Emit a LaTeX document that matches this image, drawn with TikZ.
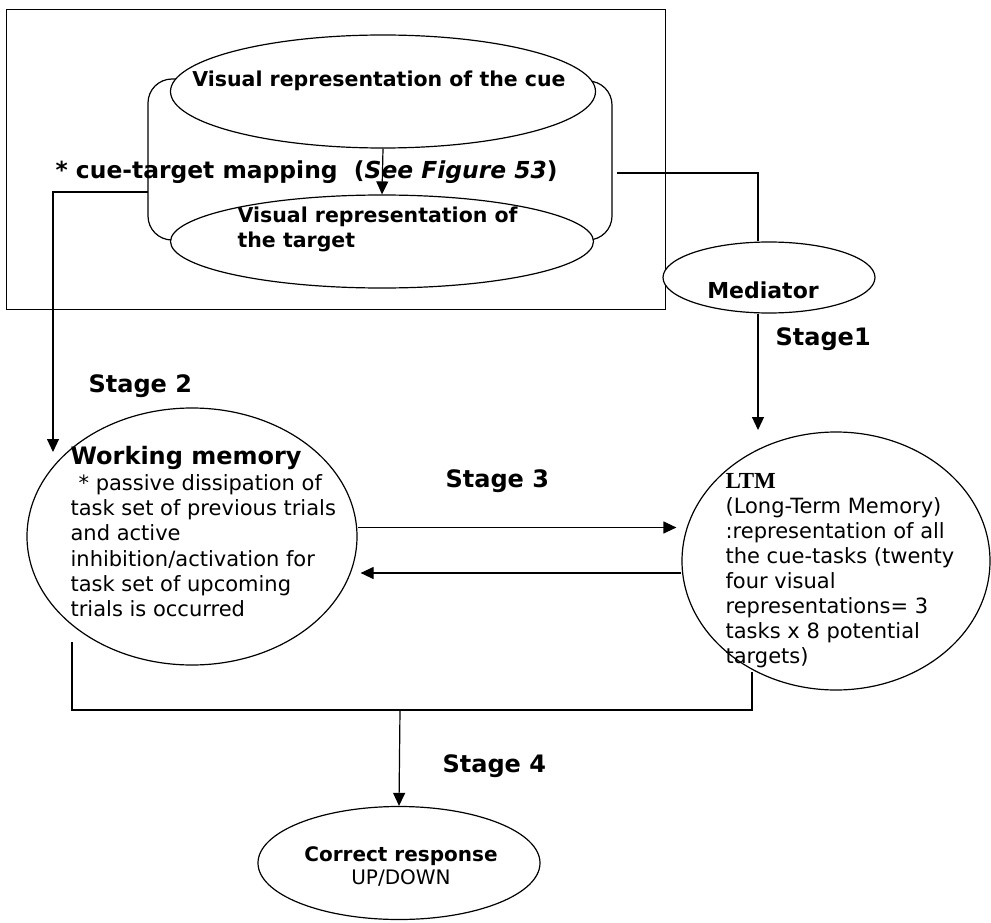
\documentclass[tikz,border=0pt]{standalone}
\usepackage{fontspec}
\setmainfont{DejaVu Sans}
\newfontfamily\ltmfont{Liberation Serif}
\usetikzlibrary{arrows.meta, positioning, shapes.geometric}
\newcommand{\fsz}[2]{\fontsize{#1}{#2}\selectfont}

\begin{document}
\begin{tikzpicture}[x=1pt, y=-1pt, line width=1.2pt,
    ell/.style={draw, ellipse, fill=white, inner sep=0pt},
    arr/.style={-{Triangle[length=13pt, width=12pt]}},
    txt/.style={inner sep=0pt, align=left, font=\fsz{20.5}{25}\bfseries},
    stagelbl/.style={inner sep=0pt, anchor=west, font=\fsz{24}{28}\bfseries}]
    \useasboundingbox (0,0) rectangle (991,923);

    % top frame with the two visual representations
    \node[draw, anchor=north west, inner sep=0pt, minimum width=659, minimum height=300] (frame) at (6,9) {};
    \draw[rounded corners=24pt] (200,79) -- (148,79) -- (148,240) -- (200,240);
    \draw[rounded corners=24pt] (565,81) -- (612,81) -- (612,240) -- (565,240);
    \node[ell, minimum width=425, minimum height=113] (cue) at (383,91.5) {};
    \node[ell, minimum width=423, minimum height=93] (target) at (382,241.5) {};
    \node[txt] (cuetext) at (379,81) {Visual representation of the cue};
    \node[txt, anchor=west] (targettext) at (237,229.5) {Visual representation of\\the target};
    \draw[arr] (cue.south) -- (target.north);
    \node[txt, anchor=west, font=\fsz{23.4}{28}\bfseries] (maptext) at (55,172) {* cue-target mapping\ \ (\textit{See Figure 53})};

    \coordinate (cylW) at (148,192);
    \coordinate (cylE) at (617,173);
    \coordinate (wmIn) at (53,452);
    \coordinate (ltmIn) at (758,430);

    % mediator
    \node[ell, minimum width=212, minimum height=71] (med) at (769,277.5) {};
    \node[txt, font=\fsz{22}{26}\bfseries] (medtext) at (763,290) {Mediator};
    \draw (cylE) -| ([xshift=-11pt]med.north);
    \draw[arr] ([xshift=-11pt]med.south) -- (ltmIn);
    \node[stagelbl] (s1) at (775,339) {Stage1};

    % working memory
    \node[ell, minimum width=330, minimum height=257] (wm) at (192,536.5) {};
    \node[anchor=north west, inner sep=0pt, align=left, font=\fsz{21}{25.3}] (wmtext) at (70,446)
      {{\fsz{24}{25}\bfseries Working memory}\\\hspace{8pt}* passive dissipation of\\task set of previous trials\\and active\\inhibition/activation for\\task set of upcoming\\trials is occurred};
    \draw[arr] (cylW) -| (wmIn);
    \node[stagelbl] (s2) at (88,386) {Stage 2};

    % long-term memory
    \node[ell, minimum width=308, minimum height=258] (ltm) at (836,561) {};
    \node[anchor=north west, inner sep=0pt, align=left, font=\fsz{21}{25}] (ltmtext) at (725,473)
      {{\ltmfont\bfseries\fsz{23}{25}LTM}\\(Long-Term Memory)\\:representation of all\\the cue-tasks (twenty\\four visual\\representations= 3\\tasks x 8 potential\\targets)};

    % stage 3
    \coordinate (wmR) at ([yshift=9pt]wm.east);
    \coordinate (ltmL) at ([yshift=-12pt]ltm.west);
    \draw[arr, shorten >=5pt] (wmR) -- (wmR -| ltm.west);
    \draw[arr, shorten >=3pt] (ltmL) -- (ltmL -| wm.east);
    \node[stagelbl] (s3) at (445,481) {Stage 3};

    % stage 4
    \node[ell, minimum width=282, minimum height=113] (resp) at (399,863) {};
    \node[align=center, inner sep=0pt, font=\fsz{20}{23}] (resptext) at (401,866) {{\bfseries Correct response}\\UP/DOWN};
    \coordinate (wmOut) at (72,642);
    \coordinate (ltmOut) at (752,672);
    \coordinate (merge) at (400,710);
    \draw (wmOut) |- (merge) -| (ltmOut);
    \draw[arr] (merge) -- (resp.north);
    \node[stagelbl] (s4) at (442,766) {Stage 4};
\end{tikzpicture}
\end{document}
